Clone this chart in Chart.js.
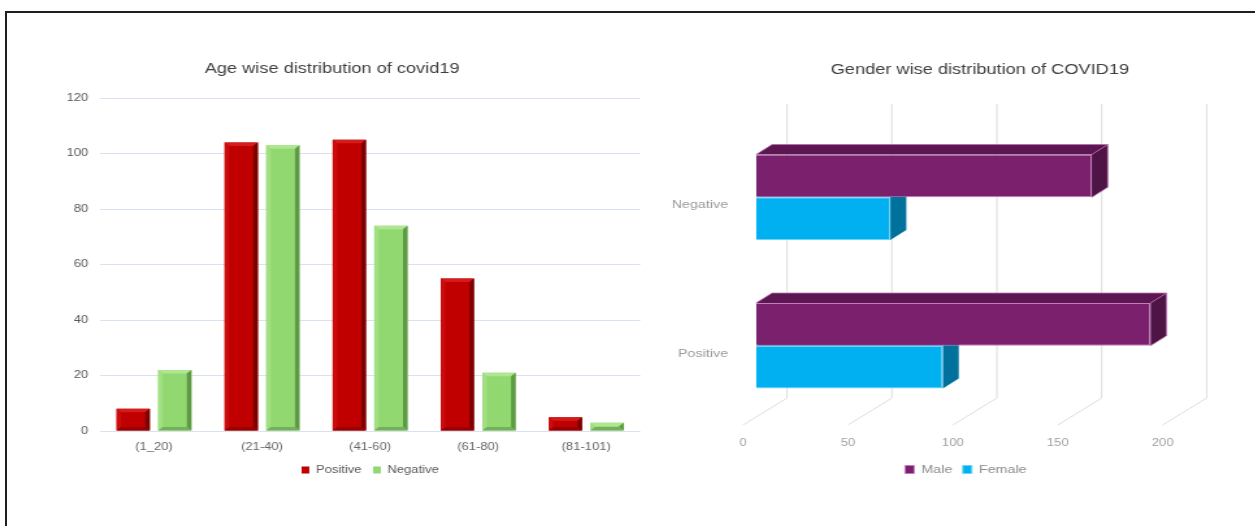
<!DOCTYPE html>
<html>
<head>
<meta charset="utf-8">
<script src="https://cdn.jsdelivr.net/npm/chart.js@4.4.1/dist/chart.umd.min.js"></script>
<style>
  html, body { margin: 0; padding: 0; background: #fff; }
  body { width: 1255px; height: 526px; overflow: hidden; position: relative; }
  .marco { position: absolute; left: 5px; top: 11px; width: 1300px; height: 600px; border: 2px solid #1f1f1f; box-sizing: border-box; }
  /* la imagen original esta estirada a lo ancho */
  .panel { position: absolute; top: 0; transform: scaleX(1.3); transform-origin: 0 0; }
</style>
</head>
<body>
<div class="marco"></div>
<div class="panel" style="left: 0px;"><canvas id="edadChart" width="511" height="526"></canvas></div>
<div class="panel" style="left: 664px;"><canvas id="generoChart" width="486" height="526"></canvas></div>
<script>
// Datos por edad
const gruposEdad = ['(1_20)', '(21-40)', '(41-60)', '(61-80)', '(81-101)'];
const positivos = [8, 104, 105, 55, 5];
const negativos = [22, 103, 74, 21, 3];
const ticksEdad = [0, 20, 40, 60, 80, 100, 120];

// Datos por genero
const resultados = ['Negative', 'Positive'];
const hombres = [160, 188];
const mujeres = [64, 89];
const ticksGenero = [0, 50, 100, 150, 200];

Chart.defaults.font.family = '"Liberation Sans", Arial, sans-serif';

function cara(ctx, color, puntos) {
    ctx.fillStyle = color;
    ctx.beginPath();
    ctx.moveTo(puntos[0][0], puntos[0][1]);
    for (let i = 1; i < puntos.length; i++) ctx.lineTo(puntos[i][0], puntos[i][1]);
    ctx.closePath();
    ctx.fill();
}

// eje invisible a la derecha: deja el titulo centrado en todo el lienzo
function relleno(ancho) {
    return {
        type: 'linear',
        position: 'right',
        grid: { display: false, drawTicks: false },
        border: { display: false },
        ticks: { display: false },
        afterFit: s => { s.width = ancho; }
    };
}

// Bordes biselados de las barras verticales
const biselColores = [
    { arriba: '#D41C1C', izq: '#CC0C0C', der: '#7C0000', abajo: '#960000' },
    { arriba: '#AEE692', izq: '#A0DF82', der: '#5E9946', abajo: '#74B058' }
];
const bisel = {
    id: 'bisel',
    afterDatasetsDraw(chart) {
        const ctx = chart.ctx;
        ctx.save();
        chart.data.datasets.forEach((ds, i) => {
            const tonos = biselColores[i];
            chart.getDatasetMeta(i).data.forEach(barra => {
                const { x, y, base, width } = barra.getProps(['x', 'y', 'base', 'width'], true);
                const l = x - width / 2, r = x + width / 2;
                const t = Math.min(y, base), b = Math.max(y, base);
                const g = Math.min(3.5, width / 4, (b - t) / 2);
                cara(ctx, tonos.arriba, [[l, t], [r, t], [r - g, t + g], [l + g, t + g]]);
                cara(ctx, tonos.izq, [[l, t], [l + g, t + g], [l + g, b - g], [l, b]]);
                cara(ctx, tonos.der, [[r, t], [r, b], [r - g, b - g], [r - g, t + g]]);
                cara(ctx, tonos.abajo, [[l, b], [r, b], [r - g, b - g], [l + g, b - g]]);
            });
        });
        ctx.restore();
    }
};

// Efecto 3D del grafico de genero
const pared = { dx: 23.8, arriba: 104, abajo: 398 };
const piso = { dx: -10, y: 425 };
const fondo = { dx: 12.3, dy: -10 };
const caras3d = [
    { arriba: '#5C1752', lado: '#4E1445', linea: '#B46AAA' },
    { arriba: '#0A86B8', lado: '#00719C', linea: null }
];
const profundidad = {
    id: 'profundidad',
    beforeDatasetsDraw(chart) {
        const ctx = chart.ctx;
        const ejeX = chart.scales.x;
        ctx.save();
        ctx.strokeStyle = '#DCDCDC';
        ctx.lineWidth = 1;
        ejeX.ticks.forEach(t => {
            const px = ejeX.getPixelForValue(t.value);
            ctx.beginPath();
            ctx.moveTo(px + pared.dx, pared.arriba);
            ctx.lineTo(px + pared.dx, pared.abajo);
            ctx.lineTo(px + piso.dx, piso.y);
            ctx.stroke();
        });
        // primero mujeres, luego hombres (la barra de arriba tapa la de abajo)
        for (let d = chart.data.datasets.length - 1; d >= 0; d--) {
            const c = caras3d[d];
            chart.getDatasetMeta(d).data.forEach(barra => {
                const { x, y, base, height } = barra.getProps(['x', 'y', 'base', 'height'], true);
                const top = y - height / 2, bot = y + height / 2;
                const atrasIzq = [base + fondo.dx, top + fondo.dy];
                const atrasDer = [x + fondo.dx, top + fondo.dy];
                const atrasAbajo = [x + fondo.dx, bot + fondo.dy];
                cara(ctx, c.arriba, [[base, top], atrasIzq, atrasDer, [x, top]]);
                cara(ctx, c.lado, [[x, top], atrasDer, atrasAbajo, [x, bot]]);
                if (c.linea) {
                    ctx.strokeStyle = c.linea;
                    ctx.lineWidth = 0.8;
                    ctx.beginPath();
                    ctx.moveTo(base, top);
                    ctx.lineTo(atrasIzq[0], atrasIzq[1]);
                    ctx.lineTo(atrasDer[0], atrasDer[1]);
                    ctx.lineTo(atrasAbajo[0], atrasAbajo[1]);
                    ctx.lineTo(x, bot);
                    ctx.moveTo(atrasDer[0], atrasDer[1]);
                    ctx.lineTo(x, top);
                    ctx.stroke();
                }
            });
        }
        ctx.restore();
    }
};

new Chart(document.getElementById('edadChart'), {
    type: 'bar',
    data: {
        labels: gruposEdad,
        datasets: [
            { label: 'Positive', data: positivos, backgroundColor: '#C00000', borderWidth: 0 },
            { label: 'Negative', data: negativos, backgroundColor: '#92D870', borderWidth: 0 }
        ]
    },
    options: {
        responsive: false,
        animation: false,
        devicePixelRatio: 1,
        categoryPercentage: 0.77,
        barPercentage: 0.8,
        layout: { padding: { left: 0, right: 0, top: 0, bottom: 41 } },
        plugins: {
            title: {
                display: true,
                text: 'Age wise distribution of covid19',
                color: '#404040',
                font: { size: 14, weight: 'normal' },
                padding: { top: 61, bottom: 20.2 }
            },
            legend: {
                position: 'bottom',
                fullSize: false,
                labels: { boxWidth: 6, boxHeight: 7, color: '#595959', font: { size: 10 }, padding: 9 }
            },
            tooltip: { enabled: false }
        },
        scales: {
            x: {
                grid: { display: false, drawTicks: false },
                border: { display: false },
                ticks: { color: '#666666', font: { size: 10 }, padding: 10, maxRotation: 0, autoSkip: false },
                afterFit: s => { s.height = 25; }
            },
            y: {
                min: ticksEdad[0],
                max: ticksEdad[ticksEdad.length - 1],
                afterBuildTicks: s => { s.ticks = ticksEdad.map(v => ({ value: v })); },
                ticks: { color: '#595959', font: { size: 10 }, padding: 9 },
                grid: { color: '#D9E2F1', drawTicks: false },
                border: { display: false },
                afterFit: s => { s.width = 76.9; }
            },
            relleno: relleno(18.5)
        }
    },
    plugins: [bisel]
});

new Chart(document.getElementById('generoChart'), {
    type: 'bar',
    data: {
        labels: resultados,
        datasets: [
            { label: 'Male', data: hombres, backgroundColor: '#7A206C', borderColor: '#C77BBE', borderWidth: 1 },
            { label: 'Female', data: mujeres, backgroundColor: '#00B0F0', borderColor: '#6FD3F7', borderWidth: 1 }
        ]
    },
    options: {
        indexAxis: 'y',
        responsive: false,
        animation: false,
        devicePixelRatio: 1,
        categoryPercentage: 0.575,
        barPercentage: 1,
        layout: { padding: { left: 0, right: 0, top: 0, bottom: 41 } },
        plugins: {
            title: {
                display: true,
                text: 'Gender wise distribution of COVID19',
                color: '#404040',
                font: { size: 14, weight: 'normal' },
                padding: { top: 61.6, bottom: 44.6 }
            },
            legend: {
                position: 'bottom',
                fullSize: false,
                labels: { boxWidth: 7, boxHeight: 8, color: '#8C8C8C', font: { size: 11 }, padding: 8 }
            },
            tooltip: { enabled: false }
        },
        scales: {
            x: {
                min: ticksGenero[0],
                max: ticksGenero[ticksGenero.length - 1],
                afterBuildTicks: s => { s.ticks = ticksGenero.map(v => ({ value: v })); },
                ticks: { color: '#A0A0A0', font: { size: 10 }, padding: 17, labelOffset: -10, maxRotation: 0, autoSkip: false },
                grid: { display: false, drawTicks: false },
                border: { display: false },
                afterFit: s => { s.height = 36; }
            },
            y: {
                ticks: { color: '#999999', font: { size: 11 }, padding: 21.5, labelOffset: 8 },
                grid: { display: false, drawTicks: false },
                border: { display: false },
                afterFit: s => { s.width = 70.8; }
            },
            relleno: relleno(92.4)
        }
    },
    plugins: [profundidad]
});
</script>
</body>
</html>
